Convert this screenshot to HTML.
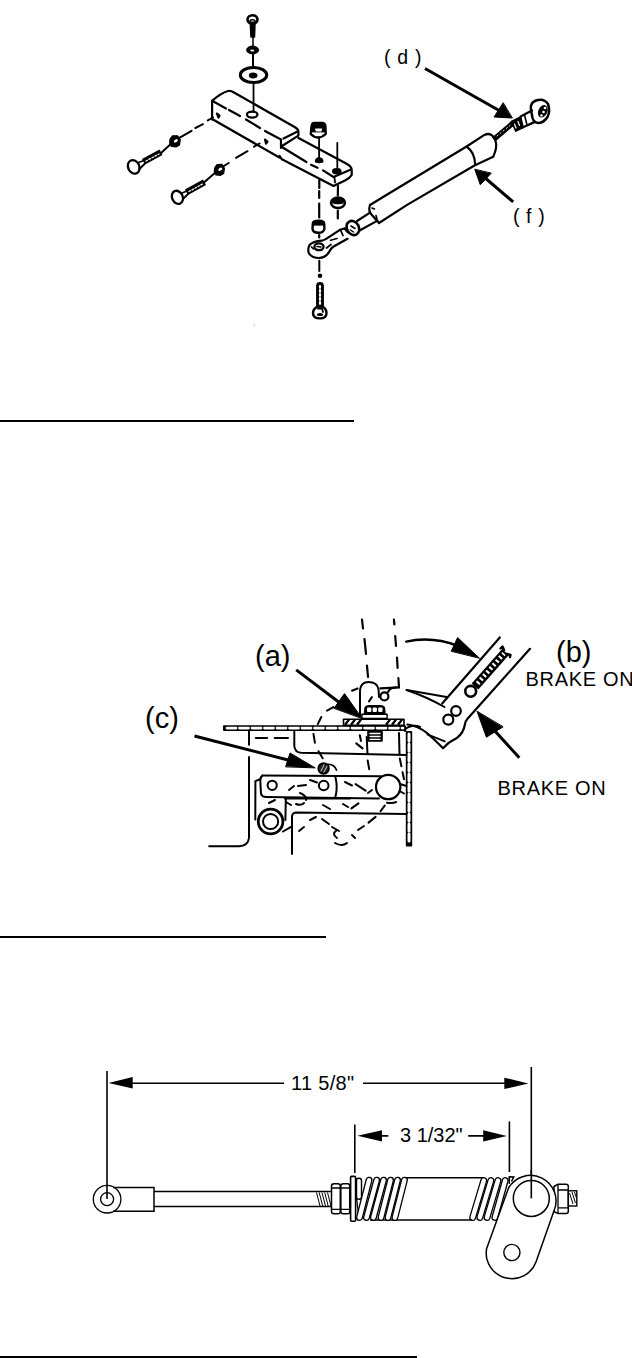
<!DOCTYPE html>
<html><head><meta charset="utf-8">
<style>
html,body{margin:0;padding:0;background:#fff;width:632px;height:1358px;overflow:hidden;}
svg{position:absolute;left:0;top:0;}
text{font-family:"Liberation Sans",sans-serif;fill:#000;}
</style></head>
<body>
<svg width="632" height="1358" viewBox="0 0 632 1358">
<!-- rules -->
<rect x="0" y="420" width="354" height="2" fill="#000"/>
<rect x="0" y="936" width="326" height="2" fill="#000"/>
<rect x="0" y="1356" width="417" height="2" fill="#000"/>

<!-- labels -->
<text x="384" y="64" font-size="19.5" letter-spacing="0.7">( d )</text>
<text x="513" y="223" font-size="19.5" letter-spacing="0.6">( f )</text>
<text x="255" y="665.5" font-size="29">(a)</text>
<text x="556" y="662" font-size="29">(b)</text>
<text x="525.5" y="686" font-size="20" letter-spacing="0.7">BRAKE ON</text>
<text x="145" y="728" font-size="29">(c)</text>
<text x="497.5" y="795" font-size="20" letter-spacing="0.7">BRAKE ON</text>
<text x="291" y="1090" font-size="20" letter-spacing="0.3">11 5/8"</text>
<text x="400" y="1142" font-size="20">3 1/32"</text>

<g id="top" fill="none" stroke="#000" stroke-width="2.2" stroke-linecap="round" stroke-linejoin="round">
 <!-- top bolt -->
 <ellipse cx="252.5" cy="19.5" rx="5" ry="4.3" stroke-width="2.6"/><ellipse cx="252.5" cy="21" rx="2.6" ry="1.3" stroke-width="1.4"/>
 <path d="M250.3 23 L251 37 L254.5 37 L255 23" fill="#000" stroke-width="1.5"/>
 <path d="M253 37 L253 46" stroke-width="1.5"/>
 <ellipse cx="252.6" cy="50" rx="6.5" ry="4.4" fill="#000" stroke="none"/><ellipse cx="252.2" cy="50.5" rx="2" ry="1" fill="#fff" stroke="none"/>
 <path d="M253 54.5 L253 67" stroke-width="2"/>
 <ellipse cx="253.5" cy="75" rx="13.2" ry="7.6" stroke-width="3"/>
 <ellipse cx="253.2" cy="75.5" rx="4.3" ry="2.9" fill="#000" stroke="none"/>
 <path d="M253.5 83 L253.6 111.5" stroke-width="1.8"/>
 <!-- bar thick part -->
 <path d="M212.1 119.5 L212.1 100.8 Q221 93 228 91 Q231 90.5 234 92.5 L295 127.2 Q298.6 129.5 298.4 132 L298.4 135.6 L282 146"/>
 <path d="M283.5 138.5 L296.5 132" />
 <path d="M212.1 100.8 L226 108.5"/>
 <path d="M229 110 L240 116 M246 119.5 L260 128 M265 131 L281 139.5 L281 148"/>
 <path d="M212.1 119 L279.4 157.5"/>
 <ellipse cx="252.2" cy="114.6" rx="5.3" ry="3" stroke-width="2.2"/>
 <path d="M217 113.5 L219.5 115.5 L218.5 117.5 Z" fill="#000"/>
 <path d="M265 139.5 L267.5 141.5 L266 143.5 Z" fill="#000"/>
 <!-- thin part -->
 <path d="M298.5 138 L347 164 Q351.7 166.5 351.7 170 L351.7 175 Q350 178 345 180.5 L333.5 186 L281.9 159.3 L279.5 156"/>
 <path d="M282.7 147.5 L306.4 162 M311 164.8 L317.5 167.8 M323 170.4 L333.5 177 L351 169.5"/>
 <path d="M334.5 177.5 L335 182.5" stroke-width="1.8"/>
 <path d="M315.5 161.8 Q315.5 158 319.1 158 Q322.8 158 322.8 161.8 Q319 163.3 315.5 161.8 Z" fill="#000" stroke-width="1.4"/>
 <ellipse cx="336.8" cy="171.2" rx="4.2" ry="2.7" fill="#000" stroke-width="1.2"/>
 <path d="M319.1 137.5 L319.1 158" stroke-width="1.8"/>
 <path d="M337.3 143 L337.3 167.5" stroke-width="1.8"/>
 <!-- hex nut on bar -->
 <path d="M311.8 123.7 L325.4 123.7 L325.4 132.4 L311.8 132.4 Z" fill="#000" stroke="none"/>
 <path d="M310.8 134 L311.5 126.1 Q312 123 314.3 122.9 L322.2 122.9 Q325 123 325.4 126.1 L325.7 134 Q322 137.5 318.3 137.5 Q314 137.5 310.8 134 Z" stroke-width="2.4"/>
 <path d="M315.1 128.6 L322.2 128.6 L321.5 131.6 L315.8 131.6 Z" fill="#fff" stroke="none"/>
 <!-- lower dashed lines & nuts -->
 <path d="M319.3 180 L319.3 188 M319.2 191 L319.2 198 M319.2 203.5 L319.2 217.5 M319.2 235 L319.2 237.5" stroke-width="2.2"/>
 <path d="M338 186 L337.8 195.5 M337.8 210.8 L337.8 218.5" stroke-width="2.2"/>
 <ellipse cx="338" cy="202.8" rx="6.9" ry="5.3" stroke-width="2.6"/>
 <ellipse cx="338" cy="201.3" rx="6.2" ry="3.6" fill="#000" stroke="none"/>
 <path d="M334.5 204.8 L341.5 204.8" stroke="#fff" stroke-width="1.3"/>
 <path d="M312.8 223.5 Q312.5 220.8 318.5 220.8 Q324.5 220.8 324.2 223.5 L324.4 229 Q323.5 232.8 318.5 232.8 Q313 232.8 312.5 229 Z" stroke-width="2.4"/>
 <rect x="313" y="221" width="11" height="4.6" fill="#000" stroke="none"/>
 <!-- rod end eye lower -->
 <path d="M344.5 228.5 L339.9 229.8 L328.5 237.4 Q325 240 321.8 240.7 Q313 241.5 309.5 245 Q307.3 249.5 309 253.5 Q312 258 319 258 Q326 257.7 329.4 251.5 Q331 248.2 333.2 246.8 L347.5 238.8"/>
 <path d="M344.5 228.5 L347.5 232" />
 <path d="M340.5 230 L343 235.5" stroke-width="1.8"/>
 <ellipse cx="319" cy="246.8" rx="4.6" ry="3.4" stroke-width="2.3"/>
 <path d="M317 246.5 L321 247" stroke-width="1.6"/>
 <path d="M330.5 240.3 L337 238.5 M326.5 248 L331 244.5 M311.5 247 L313.5 249" stroke-width="1.7"/>
 <path d="M319.3 260.7 L319.3 271" stroke-width="2"/>
 <circle cx="320" cy="275.7" r="1.2" fill="#000"/>
 <!-- lower bolt -->
 <path d="M316.8 306.5 L316.8 285.5 Q317 282.8 320 282.8 Q323 282.8 323.2 285.5 L323.2 306.5 Z" fill="#000" stroke-width="1.4"/>
 <path d="M320 286 L320 304" stroke="#fff" stroke-width="2.2" stroke-dasharray="1.8 2.2"/>
 <path d="M317.5 306.5 Q313 309 313 313 Q313 318.4 320 318.4 Q326.5 318.4 326.5 313 Q326.5 309 322.5 306.5 Z" stroke-width="2.4"/>
 <path d="M318 308.5 L322 308.5 L323 312" stroke-width="1.8"/>
 <ellipse cx="320" cy="314.5" rx="3.2" ry="1.6" fill="#000" stroke="none"/>
 <!-- nut on rod -->
 <ellipse cx="352.9" cy="228" rx="6" ry="7.4" stroke-width="2.6" transform="rotate(-30 352.9 228)"/>
 <path d="M351 226 L355 228.5 M350.5 230 L353.5 232" stroke-width="1.5"/>
 <!-- narrow rod -->
 <path d="M357 221 L369.6 212.8"/>
 <path d="M359.2 230.8 L377.5 220.6"/>
 <!-- tube -->
 <path d="M370 205 Q368 211 371.5 214.5 L379 223"/>
 <path d="M372 208 L374.5 209 M376 215.5 L377 219" stroke-width="1.6"/>
 <path d="M370 205 L383.5 196.7 L466.6 146.5 L484.4 134.9 Q491.5 131.7 495.3 140 Q497.8 147 493.2 156.8 L474.5 165.5 L407.5 204.6 L379 223"/>
 <path d="M466.6 146.5 Q474.8 152.5 475.2 164.5"/>
 <!-- threaded rod to d -->
 <path d="M493.7 139.5 L513 123" stroke-width="5.2" stroke-linecap="butt"/>
 <path d="M497 136 L510 125.5" stroke="#fff" stroke-width="0.9" stroke-dasharray="1.2 2.8"/>
 <path d="M511.5 121.5 L520.6 117 L523 127.5 L515.9 131 Z" fill="#000" stroke-width="1.8"/>
 <path d="M514.5 124 L516 128 M518 121.5 L519.5 125.5" stroke="#fff" stroke-width="1.2"/>
 <path d="M520.6 116.5 L532 110.5 M522.5 127.5 L535 121.9" stroke-width="2.3"/>
 <path d="M524.5 115 L527 125" stroke-width="1.6"/>
 <path d="M531 110 Q529.5 103 536 100.5 Q544 98 548 104 Q550.5 111 547.5 117 Q544 122.5 538.5 123 Q534 123 532.5 118 Z" stroke-width="2.5"/>
 <ellipse cx="542.8" cy="111.3" rx="4" ry="6" fill="#000" transform="rotate(25 542.8 111.3)" stroke-width="1"/>
 <circle cx="545" cy="108" r="1.3" fill="#fff" stroke="none"/>
 <circle cx="543.5" cy="112" r="1.3" fill="#fff" stroke="none"/>
 <circle cx="541.5" cy="115.5" r="1.2" fill="#fff" stroke="none"/>
 <!-- left bolts -->
 <ellipse cx="133.7" cy="166.9" rx="5.6" ry="7" stroke-width="2.3" transform="rotate(-25 133.7 166.9)"/>
 <path d="M138.5 162.5 L144 160.5 M139.5 169 L145 163.5" stroke-width="1.8"/>
 <path d="M143.5 161.8 L161 152.3" stroke-width="6.4" stroke-linecap="butt"/>
 <path d="M146 161 L159 154" stroke="#fff" stroke-width="1.3" stroke-dasharray="1.6 1.8"/>
 <path d="M161.3 152.7 L170.8 144.1" stroke-width="2"/>
 <path d="M170 139 L172.5 135.8 L177.5 135.8 L180.3 139.5 L179.5 145 L176 147 L171.5 146.5 L169.7 143 Z" fill="#000" stroke-width="1.2"/><ellipse cx="175.8" cy="140.8" rx="2.2" ry="1.4" fill="#fff" stroke="none" transform="rotate(-35 175.8 140.8)"/>
 <path d="M179.3 137.8 L191.6 130.8 M195.4 128 L203 124.2 M207.8 120.4 L213 117.5" stroke-width="2"/>
 <ellipse cx="177.4" cy="197.3" rx="5.3" ry="6.8" stroke-width="2.3" transform="rotate(-25 177.4 197.3)"/>
 <path d="M182 193 L187 191 M183 199 L188 194" stroke-width="1.8"/>
 <path d="M186.5 192.3 L204.5 182.2" stroke-width="6.4" stroke-linecap="butt"/>
 <path d="M189 191.5 L202.5 184" stroke="#fff" stroke-width="1.3" stroke-dasharray="1.6 1.8"/>
 <path d="M204.5 182 L215.4 172.6" stroke-width="2"/>
 <path d="M214.6 168 L217 164.5 L222 164.3 L224.4 168.2 L223.7 173.5 L220.5 175.3 L216 175 L214.3 171.5 Z" fill="#000" stroke-width="1.2"/><ellipse cx="220.3" cy="169.2" rx="2.2" ry="1.4" fill="#fff" stroke="none" transform="rotate(-35 220.3 169.2)"/>
 <path d="M223.9 166 L228.7 163 M236 157.8 L247.5 151.2 M254 146.7 L259.6 143.5" stroke-width="2"/>
 <!-- arrows -->
 <path d="M425 68.5 L500 111" stroke-width="3" stroke-linecap="butt"/>
 <path d="M512 118 L494 117 L503 103 Z" fill="#000" stroke-width="1"/>
 <path d="M513.2 201.9 L484 177" stroke-width="3" stroke-linecap="butt"/>
 <path d="M474.9 169.6 L480.3 184.8 L491 173.4 Z" fill="#000" stroke-width="1"/>
 <circle cx="254.2" cy="325.2" r="0.6" fill="#888" stroke="none"/>
</g>
<g id="mid" fill="none" stroke="#000" stroke-width="2" stroke-linecap="round" stroke-linejoin="round">
 <!-- upper dashed lever lines -->
 <path d="M362 619.5 L363 628.5 M364.5 639 L366 654 M367 665.5 L368 677" stroke-width="2.2"/>
 <path d="M393.9 619.5 L394.4 624.5 M395.2 636 L396 646 M397 657.6 L397.6 667.9 M398.4 678.2 L399 687.4" stroke-width="2.2"/>
 <path d="M399 687.4 L380.5 688.4" stroke-width="2.2"/>
 <!-- lever bulb -->
 <path d="M360 716 L360 690 Q361 682 368.5 682 Q377 682 378.5 689 L379 697"/>
 <circle cx="384.4" cy="696.4" r="4" stroke-width="2.2"/>
 <path d="M388 692 Q390 687.5 396 687.5"/>
 <!-- plate horizontal -->
 <rect x="223" y="725.2" width="183" height="5.8" rx="1" fill="#000" stroke="none"/>
 <path d="M227 728.1 L403 728.1" stroke="#fff" stroke-width="2.7" stroke-dasharray="9 3.5" stroke-linecap="round"/>
 <!-- hatched washer -->
 <rect x="343.5" y="719.2" width="60.5" height="6.2" fill="#fff" stroke-width="1.6"/>
 <path d="M345 724.8 L349 719.6 M351 724.8 L355 719.6 M357 724.8 L361 719.6 M386 724.8 L390 719.6 M392 724.8 L396 719.6 M398 724.8 L402 719.6" stroke-width="2.3" stroke-linecap="butt"/>
 <!-- nut (a) -->
 <path d="M362 718.5 L362 714.2 L387 714.2 L387 718.5 Z" fill="#fff" stroke-width="1.6"/>
 <path d="M364.5 713.5 L365 708 Q366 705.7 369 705.7 L380.5 705.7 Q383.8 705.7 384.5 708 L385 713.5 Z" fill="#000" stroke-width="1.4"/>
 <rect x="367" y="707.5" width="4.3" height="4.5" rx="1" fill="#fff" stroke="none"/>
 <rect x="372.6" y="707.5" width="4.3" height="4.5" rx="1" fill="#fff" stroke="none"/>
 <rect x="378.2" y="707.5" width="4.3" height="4.5" rx="1" fill="#fff" stroke="none"/>
 <path d="M363 716.3 L386 716.3" stroke="#fff" stroke-width="1.2"/>
 <!-- bolt below plate -->
 <path d="M368 731 L368 741 L382 741 L382 731" fill="#000" stroke-width="1.6"/>
 <path d="M370 733.5 L380 733.5 M370 736.5 L380 736.5 M370 739.3 L380 739.3" stroke="#fff" stroke-width="1.3"/>
 <!-- right vertical double plate -->
 <path d="M405 731 Q405 728 410 726.5 Q416 725 420 727" stroke-width="2"/>
 <rect x="405.8" y="731" width="6.4" height="115.5" rx="1" fill="#000" stroke="none"/>
 <path d="M409 734 L409 843.5" stroke="#fff" stroke-width="3" stroke-dasharray="7 3" stroke-linecap="round"/>
 <!-- upper box -->
 <path d="M294.3 731.5 L294.3 746 Q295 752.5 301 752.8 L406.5 755" />
 <path d="M366.7 737 L367.5 754" />
 <path d="M399 733 L399.5 754"/>
 <!-- left frame -->
 <path d="M249 731 L249 744.7 M249 757 L249 838 Q248 846 239 846.3 L209.2 846.3"/>
 <path d="M255.8 738 L267.1 738 M274.7 738 L288 738" />
 <!-- arrow (c) -->
 <path d="M194.5 736 L290 760.5" stroke-width="3" stroke-linecap="butt"/>
 <path d="M285.7 766.5 L290 753 L314.9 767.7 Z" fill="#000" stroke-width="1"/>
 <!-- hatched nut (c) -->
 <circle cx="323.6" cy="768.5" r="5.3" fill="#222" stroke-width="1.8"/>
 <path d="M321 771 L324 765 M324 772 L327 766" stroke="#fff" stroke-width="0.8"/>
 <path d="M328 764.5 Q334 764 336.5 770" stroke-width="1.8"/>
 <!-- link bar -->
 <path d="M262.5 775.6 L381 776.3" />
 <path d="M262.5 775.6 Q260 777 260.3 781 L261 793.8 Q262 797 266 797 L379 798.4"/>
 <path d="M335.4 777 Q338 787 335.4 797"/>
 <circle cx="272.2" cy="785.3" r="4.6"/>
 <circle cx="323.7" cy="785.5" r="4.8"/>
 <circle cx="388.2" cy="787" r="12.2" stroke-width="2.2"/>
 <path d="M400 784 L406.5 786 M399.5 791 L404 793.5" stroke-width="2"/>
 <!-- lower box -->
 <path d="M284.8 798.5 L350 798.5"/>
 <path d="M292 854 L292 817 Q292 813 296 812.5 L406.5 814"/>
 <!-- bracket & pivot -->
 <path d="M255.3 819.5 L255.4 781.1 L260.5 779"/>
 <path d="M283 831.5 L291.5 826.7"/>
 <path d="M285.8 798.5 L285.4 820" />
 <circle cx="270.6" cy="821.5" r="12.3" fill="#fff" stroke-width="2.8"/>
 <circle cx="270.6" cy="821.5" r="7.6" stroke-width="2"/>
 <!-- dashed hidden lever (off) -->
 <g stroke-width="2">
 <path d="M317.8 724.1 L321.3 717 M327 710.6 L333.4 707.1 M352 690.7 L357.6 688.5 M369 701.4 L371.9 697.1"/>
 <path d="M313.5 734.1 L314.9 742.7 M318.5 751.2 L322.7 758.3" />
 <path d="M359.8 735.3 L361 741 M367.7 760.6 L369.2 769.2" />
 <path d="M356.2 743.4 L362.6 748.4 M356.3 744.3"/>
 <path d="M399.8 758.5 L404 779.2" stroke-dasharray="8 6"/>
 <path d="M310 780 L317 782.5 M345 782 L352 785.5 M355.6 784.1 L365.6 790.6" />
 <path d="M368 793 L372 790 M351.4 808.4 L358.5 803.4 M380.6 811.2 L384.8 805.5 M387 802.7 Q393 803.5 396.2 802"/>
 <path d="M368.5 822.6 L375.6 816.9 M358 830 L364 826 M352 835 L355 838" />
 <path d="M337 830 Q331 834 337 838 M335 843 Q342 847 347 843"/>
 <path d="M299 831 L304 827 M310 820 L316 817 M322 819 L329 824 M332 827 L339 831" />
 <path d="M289 790 L294 786 M298 786 L306 785 M300 793 Q307 796 306 800 M296 804 Q301 806 304 803"/>
 <path d="M269 803 L275 800 M286 802 L291 805 M323 805 L330 809 M343 804 L348 807"/>
 </g>
 <!-- lever ON -->
 <path d="M499.8 637.5 L442.2 703.5" stroke-width="2.2"/>
 <path d="M530 648.8 L467.5 718.7 Q465.3 721 464.9 724.5 Q463.5 733 457 737.9 Q452 740.5 448.3 743.1 L443.1 748.3 Q436 741 427 733 Q418 726 407.4 724.5" stroke-width="2.2"/>
 <path d="M406.6 690 L446.6 697" stroke-width="2"/>
 <path d="M406.6 690 Q427 697 444.5 707" stroke-width="2"/>
 
 <path d="M427.4 734.4 L444.8 741.4" stroke-width="1.8"/>
 <circle cx="448.3" cy="719.6" r="5" stroke-width="2.2"/>
 <circle cx="456" cy="711" r="4.8" stroke-width="2.2"/>
 <!-- spring -->
 <circle cx="470.7" cy="691.3" r="5.4" stroke-width="2.6"/>
 <path d="M475 686.5 L505.5 652" stroke-width="9" stroke-linecap="butt"/>
 <path d="M500.5 648.5 L502.5 646.5 L504 650 M507 654 L510.5 655 L510 657" stroke-width="2.4"/>
 <path d="M477.5 683.5 L504 653.5" stroke="#fff" stroke-width="4.4" stroke-dasharray="2.1 2.7" stroke-linecap="butt"/>
 <!-- curved arrow (b) -->
 <path d="M406.2 641.6 Q432 636 458 646" stroke-width="2.5"/>
 <path d="M451.4 650.9 L457.6 637.5 L479.2 658 Z" fill="#000" stroke-width="1"/>
 <!-- arrow BRAKE ON lower -->
 <path d="M519.3 757.8 L494 730" stroke-width="3" stroke-linecap="butt"/>
 <path d="M477.1 711.5 L486.4 737.2 L502.8 727 Z" fill="#000" stroke-width="1"/>
 <!-- arrow (a) -->
 <path d="M296.2 669.9 L340 703" stroke-width="3" stroke-linecap="butt"/>
 <path d="M334.2 708 L344.5 693.6 L362 718.3 Z" fill="#000" stroke-width="1"/>
</g>
<g id="bot" fill="none" stroke="#000" stroke-width="1.5">
 <!-- dimension 11 5/8 -->
 <path d="M107 1071 L107 1199" stroke-width="1.6"/>
 <path d="M531.3 1067 L531.3 1198.4" stroke-width="1.6"/>
 <path d="M132 1083.2 L284 1083.2 M363 1083.2 L505 1083.2" stroke-width="1.6"/>
 <path d="M108.5 1083 L132.7 1077.1 L132.7 1088.5 Z" fill="#000" stroke="none"/>
 <path d="M528.4 1083.4 L504.3 1077.7 L504.3 1089.1 Z" fill="#000" stroke="none"/>
 <!-- dimension 3 1/32 -->
 <path d="M354.8 1124.4 L354.8 1173" stroke-width="1.6"/>
 <path d="M509.4 1121.4 L509.4 1172" stroke-width="1.6"/>
 <path d="M381 1135.9 L388.3 1135.9 M468.2 1135.9 L484 1135.9" stroke-width="1.6"/>
 <path d="M357.4 1135.8 L382 1130.3 L382 1141.4 Z" fill="#000" stroke="none"/>
 <path d="M506.8 1135.9 L483.2 1130.3 L483.2 1141.6 Z" fill="#000" stroke="none"/>
 <!-- rod end eye -->
 <circle cx="107.1" cy="1199.2" r="13.8" stroke-width="1.3"/>
 <circle cx="107.1" cy="1199.2" r="6.5" stroke-width="1.3"/>
 <path d="M113 1187.4 L154 1187.4 L154 1211.3 L113 1211.3" stroke-width="1.5"/>
 <!-- rod -->
 <path d="M154 1191.5 L331.5 1191.5 M154 1206.5 L331.5 1206.5" stroke-width="1.6"/>
 <path d="M316.5 1192.5 L320 1206 M319.2 1192.5 L322.7 1206 M322 1192.5 L325.5 1206 M324.7 1192.5 L328.2 1206 M327.5 1192.5 L331 1206" stroke-width="1"/>
 <!-- nuts -->
 <path d="M331.5 1186 Q331.5 1183.7 334 1183.7 L338 1183.7 Q340.3 1183.7 340.3 1186 L340.3 1211.5 Q340.3 1213.8 338 1213.8 L334 1213.8 Q331.5 1213.8 331.5 1211.5 Z" stroke-width="1.5"/>
 <path d="M331.5 1188 L340.3 1188 M331.5 1209.3 L340.3 1209.3" stroke-width="1.3"/>
 <path d="M340.8 1186 Q340.8 1183.7 343.3 1183.7 L347.5 1183.7 Q349.8 1183.7 349.8 1186 L349.8 1211.5 Q349.8 1213.8 347.5 1213.8 L343.3 1213.8 Q340.8 1213.8 340.8 1211.5 Z" stroke-width="1.5"/>
 <path d="M340.8 1188 L349.8 1188 M340.8 1209.3 L349.8 1209.3" stroke-width="1.3"/>
 <!-- washer -->
 <rect x="350.6" y="1176.4" width="5" height="44.9" rx="1" stroke-width="1.6"/>
 <!-- cylinder -->
 <path d="M404 1177.8 L484 1177.8 M370 1220 L473 1220" stroke-width="1.6"/>
 <!-- first partial coil -->
 <path d="M356.5 1180 Q356.5 1178.3 359 1178.3 Q361.5 1178.3 361.5 1180.5 L361.5 1197 Q361.5 1199.3 359 1199.3 Q356.5 1199.3 356.5 1197 Z" stroke-width="1.4"/>
 <path d="M356.5 1198 L359 1218" stroke-width="1.3"/>
<path d="M359.5 1217.5 L369.0 1180.2" stroke="#000" stroke-width="7" stroke-linecap="round"/><path d="M359.5 1217.5 L369.0 1180.2" stroke="#fff" stroke-width="4.4" stroke-linecap="round"/>
<path d="M366.5 1217.5 L376.6 1180.2" stroke="#000" stroke-width="7" stroke-linecap="round"/><path d="M366.5 1217.5 L376.6 1180.2" stroke="#fff" stroke-width="4.4" stroke-linecap="round"/>
<path d="M373.4 1217.5 L383.5 1180.2" stroke="#000" stroke-width="7" stroke-linecap="round"/><path d="M373.4 1217.5 L383.5 1180.2" stroke="#fff" stroke-width="4.4" stroke-linecap="round"/>
<path d="M381.0 1217.5 L390.5 1180.2" stroke="#000" stroke-width="7" stroke-linecap="round"/><path d="M381.0 1217.5 L390.5 1180.2" stroke="#fff" stroke-width="4.4" stroke-linecap="round"/>
<path d="M388.0 1217.5 L397.5 1180.2" stroke="#000" stroke-width="7" stroke-linecap="round"/><path d="M388.0 1217.5 L397.5 1180.2" stroke="#fff" stroke-width="4.4" stroke-linecap="round"/>
<path d="M394.9 1217.5 L404.4 1180.2" stroke="#000" stroke-width="7" stroke-linecap="round"/><path d="M394.9 1217.5 L404.4 1180.2" stroke="#fff" stroke-width="4.4" stroke-linecap="round"/>
<path d="M472.7 1217.5 L483.8 1180.5" stroke="#000" stroke-width="7" stroke-linecap="round"/><path d="M472.7 1217.5 L483.8 1180.5" stroke="#fff" stroke-width="4.4" stroke-linecap="round"/>
<path d="M479.8 1217.5 L490.9 1180.5" stroke="#000" stroke-width="7" stroke-linecap="round"/><path d="M479.8 1217.5 L490.9 1180.5" stroke="#fff" stroke-width="4.4" stroke-linecap="round"/>
<path d="M487.0 1217.5 L498.0 1180.5" stroke="#000" stroke-width="7" stroke-linecap="round"/><path d="M487.0 1217.5 L498.0 1180.5" stroke="#fff" stroke-width="4.4" stroke-linecap="round"/>
<path d="M494.9 1217.5 L505.2 1180.5" stroke="#000" stroke-width="7" stroke-linecap="round"/><path d="M494.9 1217.5 L505.2 1180.5" stroke="#fff" stroke-width="4.4" stroke-linecap="round"/>

 <path d="M509.3 1184 L509.3 1176.8 L513.7 1177 L511.5 1181.5" fill="#fff" stroke-width="1.5"/>
 <!-- nut right -->
 <path d="M554 1186.5 L558 1184.3 L566 1184.3 Q568.3 1184.3 568.3 1186.5 L568.3 1211.3 Q568.3 1213.6 566 1213.6 L558 1213.6 L554 1211.5 Z" stroke-width="1.5"/>
 <path d="M558 1184.3 L558 1213.6 M558 1190 L568.3 1190 M558 1207.8 L568.3 1207.8" stroke-width="1.3"/>
 <rect x="568.3" y="1190.8" width="8.5" height="15.2" stroke-width="1.4"/>
 <path d="M569.5 1193 L573 1204 M572 1192 L575.5 1203 M574.5 1192 L576.5 1198" stroke-width="1"/>
 <!-- lever plate (stadium) -->
 <path d="M508.5 1188 A25.5 25.5 0 0 1 554 1210.8 L536 1262 A25.7 25.7 0 0 1 486.6 1248.7 Z" fill="#fff" stroke-width="1.5"/>
 <circle cx="531.3" cy="1198.4" r="18" stroke-width="1.5"/>
 <circle cx="511.9" cy="1252.5" r="8.1" stroke-width="1.4"/>
 <path d="M531.3 1170 L531.3 1198.4" stroke-width="1.6"/>
</g>
</svg>
</body></html>
